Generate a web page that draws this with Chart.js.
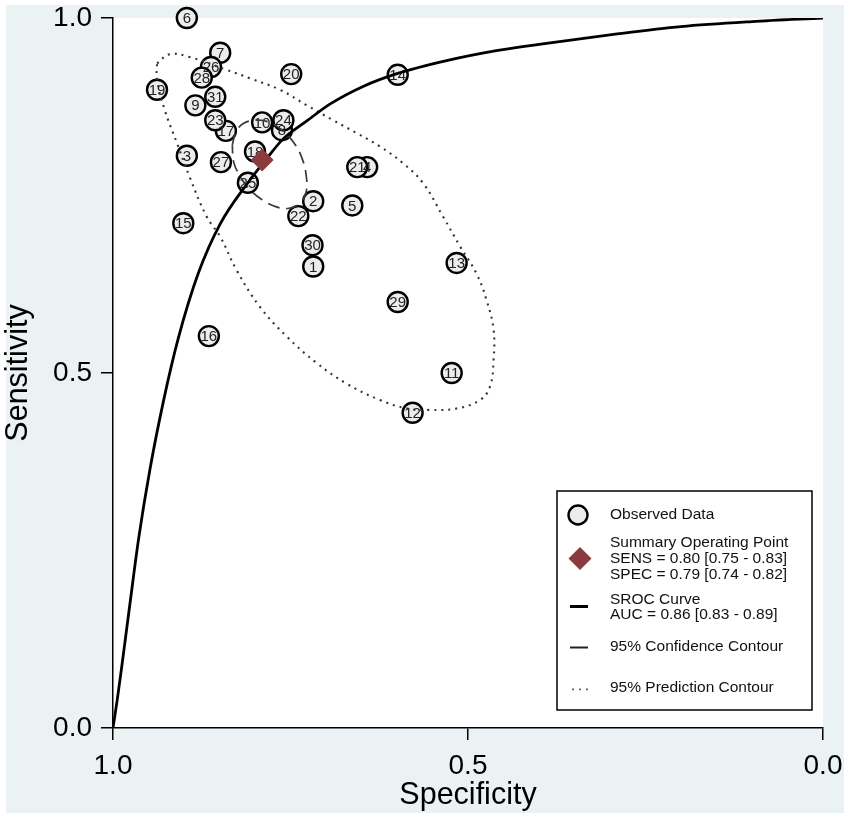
<!DOCTYPE html>
<html><head><meta charset="utf-8">
<script src="https://cdn.jsdelivr.net/npm/chart.js@4.4.1/dist/chart.umd.min.js"></script>
<style>html,body{margin:0;padding:0;background:#fff}canvas{display:block}</style>
</head><body>
<canvas id="c" width="851" height="820"></canvas>
<script>
// ---- data ----
const studyIds  = [1,2,3,4,5,6,7,8,9,10,11,12,13,14,15,16,17,18,19,20,21,22,23,24,25,26,27,28,29,30,31];
const studySpec = [0.718,0.718,0.896,0.642,0.663,0.896,0.849,0.762,0.884,0.790,0.523,0.578,0.516,0.599,0.901,0.865,0.841,0.800,0.938,0.749,0.656,0.739,0.856,0.760,0.810,0.862,0.848,0.875,0.599,0.719,0.856];
const studySens = [0.650,0.742,0.806,0.790,0.736,1.000,0.951,0.842,0.877,0.853,0.500,0.444,0.655,0.920,0.711,0.552,0.841,0.812,0.899,0.921,0.790,0.721,0.856,0.856,0.768,0.931,0.797,0.916,0.600,0.680,0.889];

const summarySpec = [0.79];
const summarySens = [0.80];

const srocSpec = [1.000,0.994,0.988,0.976,0.964,0.948,0.929,0.908,0.880,0.849,0.810,0.785,0.762,0.727,0.694,0.647,0.599,0.530,0.460,0.400,0.295,0.200,0.100,0.000];
const srocSens = [0.000,0.040,0.084,0.176,0.266,0.364,0.460,0.549,0.640,0.710,0.768,0.800,0.828,0.855,0.879,0.904,0.922,0.940,0.954,0.963,0.977,0.988,0.995,1.000];

const confSpec = [0.832,0.827,0.817,0.800,0.782,0.762,0.745,0.734,0.728,0.728,0.737,0.752,0.770,0.790,0.807,0.821,0.830,0.832];
const confSens = [0.821,0.839,0.851,0.856,0.854,0.842,0.824,0.803,0.779,0.755,0.739,0.732,0.734,0.744,0.758,0.777,0.797,0.821];

const predSpec = [0.938,0.920,0.892,0.840,0.807,0.765,0.727,0.690,0.657,0.624,0.591,0.563,0.535,0.511,0.488,0.474,0.464,0.464,0.469,0.483,0.516,0.554,0.586,0.624,0.671,0.713,0.755,0.793,0.826,0.849,0.868,0.892,0.910,0.927,0.938,0.938];
const predSens = [0.936,0.949,0.945,0.927,0.915,0.899,0.877,0.856,0.838,0.819,0.795,0.767,0.720,0.678,0.640,0.603,0.561,0.518,0.481,0.462,0.450,0.448,0.450,0.462,0.485,0.514,0.551,0.593,0.645,0.692,0.720,0.776,0.824,0.870,0.913,0.936];

const axisTicks = [0, 0.5, 1];
const xTitle = 'Specificity';
const yTitle = 'Sensitivity';
const legendText = [
  ['Observed Data'],
  ['Summary Operating Point','SENS = 0.80 [0.75 - 0.83]','SPEC = 0.79 [0.74 - 0.82]'],
  ['SROC Curve','AUC = 0.86 [0.83 - 0.89]'],
  ['95% Confidence Contour'],
  ['95% Prediction Contour']
];

// ---- helpers ----
const FONT = "'Liberation Sans', Arial, sans-serif";
const pts = (xs, ys) => xs.map((x, i) => ({x: x, y: ys[i]}));
const MAROON = '#8b3a3e';
const PFILL = '#ececec';

const bgPlugin = {
  id: 'bg',
  beforeDraw(chart) {
    const {ctx, chartArea: a} = chart;
    ctx.save();
    ctx.fillStyle = '#ffffff';
    ctx.fillRect(0, 0, chart.width, chart.height);
    ctx.fillStyle = '#eaf2f3';
    ctx.fillRect(6, 5, 838, 808);
    ctx.fillStyle = '#ffffff';
    ctx.fillRect(a.left, a.top, a.right - a.left, a.bottom - a.top);
    ctx.restore();
  }
};

const labelPlugin = {
  id: 'studyLabels',
  afterDatasetDraw(chart, args) {
    if (chart.data.datasets[args.index].id !== 'obs') return;
    const ctx = chart.ctx;
    ctx.save();
    ctx.font = '15px ' + FONT;
    ctx.fillStyle = '#222';
    ctx.textAlign = 'center';
    ctx.textBaseline = 'middle';
    args.meta.data.forEach((el, i) => {
      ctx.fillText(String(studyIds[i]), el.x, el.y + 1);
    });
    ctx.restore();
  }
};

const legendPlugin = {
  id: 'customLegend',
  afterDraw(chart) {
    const ctx = chart.ctx;
    ctx.save();
    ctx.fillStyle = '#fff';
    ctx.fillRect(557, 491, 255, 219);
    ctx.strokeStyle = '#000';
    ctx.lineWidth = 1.5;
    ctx.strokeRect(557, 491, 255, 219);

    ctx.beginPath();
    ctx.arc(578, 515, 9.5, 0, Math.PI * 2);
    ctx.fillStyle = PFILL; ctx.fill();
    ctx.lineWidth = 2.4; ctx.strokeStyle = '#000'; ctx.stroke();

    ctx.beginPath();
    ctx.moveTo(580, 547); ctx.lineTo(591.5, 558.5); ctx.lineTo(580, 570); ctx.lineTo(568.5, 558.5); ctx.closePath();
    ctx.fillStyle = MAROON; ctx.fill();

    ctx.beginPath(); ctx.moveTo(570, 606.5); ctx.lineTo(588, 606.5);
    ctx.lineWidth = 3; ctx.strokeStyle = '#000'; ctx.stroke();

    ctx.beginPath(); ctx.moveTo(570, 647.5); ctx.lineTo(588, 647.5);
    ctx.lineWidth = 2; ctx.strokeStyle = '#222'; ctx.stroke();

    ctx.fillStyle = '#444';
    [573, 580, 587].forEach(x => ctx.fillRect(x - 0.8, 688.5, 1.6, 1.8));

    ctx.fillStyle = '#111';
    ctx.font = '15.5px ' + FONT;
    ctx.textAlign = 'left';
    ctx.textBaseline = 'middle';
    const ys = [[515], [543, 559, 575], [600, 615], [647], [688]];
    legendText.forEach((lines, k) => {
      lines.forEach((t, j) => ctx.fillText(t, 610, ys[k][j]));
    });
    ctx.restore();
  }
};

const tickFmt = v => Number(v).toFixed(1);

new Chart(document.getElementById('c'), {
  type: 'scatter',
  data: {
    datasets: [
      {
        id: 'summary', label: 'Summary Operating Point',
        data: pts(summarySpec, summarySens),
        pointStyle: 'rectRot', pointRadius: 11.5, pointBackgroundColor: MAROON,
        pointBorderColor: MAROON, pointBorderWidth: 0, order: 0, clip: false
      },
      {
        id: 'sroc', label: 'SROC Curve', type: 'line',
        data: pts(srocSpec, srocSens), showLine: true, pointRadius: 0,
        borderColor: '#000', borderWidth: 2.8, cubicInterpolationMode: 'monotone',
        fill: false, order: 1
      },
      {
        id: 'conf', label: '95% Confidence Contour', type: 'line',
        data: pts(confSpec, confSens), showLine: true, pointRadius: 0,
        borderColor: '#3a3a3a', borderWidth: 1.7, borderDash: [12, 7], tension: 0.4,
        fill: false, order: 2
      },
      {
        id: 'pred', label: '95% Prediction Contour', type: 'line',
        data: pts(predSpec, predSens), showLine: true, pointRadius: 0,
        borderColor: '#333', borderWidth: 2.1, borderDash: [2, 5], tension: 0.4,
        fill: false, order: 3
      },
      {
        id: 'obs', label: 'Observed Data',
        data: pts(studySpec, studySens),
        pointStyle: 'circle', pointRadius: 10, pointBackgroundColor: PFILL,
        pointBorderColor: '#000', pointBorderWidth: 2.4, order: 4, clip: false
      }
    ]
  },
  options: {
    responsive: false,
    animation: false,
    devicePixelRatio: 1,
    events: [],
    layout: {padding: {left: 0, right: 28, top: 18, bottom: 0}},
    plugins: {legend: {display: false}, tooltip: {enabled: false}},
    scales: {
      x: {
        type: 'linear', min: 0, max: 1, reverse: true,
        afterBuildTicks: s => { s.ticks = axisTicks.map(v => ({value: v})); },
        afterFit: s => { s.height = 92; s.paddingLeft = 0; s.paddingRight = 0; },
        ticks: {callback: tickFmt, color: '#000', padding: 9, maxRotation: 0,
                font: {family: FONT, size: 28}},
        grid: {drawOnChartArea: false, drawTicks: true, tickLength: 12, color: '#000', lineWidth: 1.5},
        border: {display: true, color: '#000', width: 1.5},
        title: {display: true, text: xTitle, color: '#000', padding: {top: 0, bottom: 6},
                font: {family: FONT, size: 30.5}}
      },
      y: {
        type: 'linear', min: 0, max: 1,
        afterBuildTicks: s => { s.ticks = axisTicks.map(v => ({value: v})); },
        afterFit: s => { s.width = 113; s.paddingTop = 0; s.paddingBottom = 0; },
        ticks: {callback: tickFmt, color: '#000', padding: 9,
                font: {family: FONT, size: 28}},
        grid: {drawOnChartArea: false, drawTicks: true, tickLength: 12, color: '#000', lineWidth: 1.5},
        border: {display: true, color: '#000', width: 1.5},
        title: {display: true, text: yTitle, color: '#000', padding: {top: 0, bottom: 0},
                font: {family: FONT, size: 30.5}}
      }
    }
  },
  plugins: [bgPlugin, labelPlugin, legendPlugin]
});
</script>
</body></html>
